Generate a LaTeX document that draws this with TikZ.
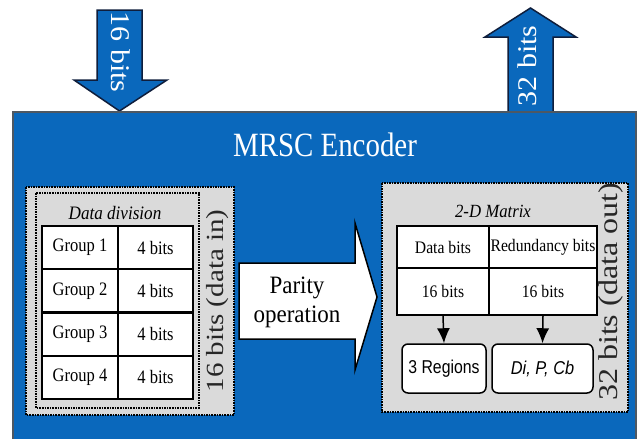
\documentclass[tikz,border=0pt]{standalone}
\usepackage{fontspec}
\setmainfont{Liberation Serif}
\setsansfont{Liberation Sans}
\usetikzlibrary{arrows.meta}
\definecolor{encblue}{RGB}{10,104,188}
\definecolor{encborder}{RGB}{78,88,98}
\definecolor{boxgray}{RGB}{218,218,218}
\definecolor{arrowline}{RGB}{15,30,60}
\newcommand{\hsq}[2][0.87]{\scalebox{#1}[1]{#2}}
\newcommand{\vsq}[2][0.85]{\scalebox{1}[#1]{#2}}
\begin{document}
\begin{tikzpicture}[x=1pt,y=-1pt,
  bigarrow/.style={fill=encblue, draw=arrowline, line width=1.5pt, line join=miter},
  arrowtext/.style={text=white, inner sep=0pt, font=\fontsize{30}{36}\selectfont},
  graybox/.style={fill=boxgray, draw=black, line width=1.6pt, dash pattern=on 1.6pt off 1pt},
  dotline/.style={draw=black, line width=1.6pt, dash pattern=on 1.6pt off 1pt},
  cell/.style={draw=black, line width=2.2pt, fill=white, inner sep=0pt, font=\fontsize{19}{22}\selectfont},
  mcell/.style={draw=black, line width=2.2pt, fill=white, inner sep=0pt, font=\fontsize{17.6}{20}\selectfont},
  rbox/.style={draw=black, line width=1.5pt, fill=white, rounded corners=6pt, inner sep=0pt,
    minimum height=49pt, font=\sffamily\fontsize{18.6}{22}\selectfont},
  conn/.style={draw=black, line width=1.5pt, -{Latex[length=15pt,width=13pt]}},
  sidetext/.style={text=black!85, inner sep=0pt, rotate=90}
]
\useasboundingbox (0,0) rectangle (641,439);
\clip (0,0) rectangle (641,439);
\fill[white] (0,0) rectangle (641,439);

% input / output arrows
\draw[bigarrow] (97,10) -- (142,10) -- (142,80) -- (167,80) -- (119.5,111) -- (74,80) -- (97,80) -- cycle;
\draw[bigarrow] (508,114) -- (508,37) -- (485,37) -- (530.5,8) -- (576,37) -- (553,37) -- (553,114);
\node[arrowtext, rotate=-90] (in16) at (121,52) {\vsq[0.9]{16 bits}};
\node[arrowtext, rotate=90] (out32) at (527,66) {\vsq[0.9]{32 bits}};

% encoder block
\draw[fill=encblue, draw=encborder, line width=2.2pt] (13,112) rectangle (636,450);
\node[text=white, inner sep=0pt, font=\fontsize{34}{40}\selectfont] (title) at (325,145) {\hsq[0.85]{MRSC Encoder}};

% left: data division
\draw[graybox] (26,187) rectangle (234,415);
\draw[dotline] (36,193) rectangle (199,408);
\node[inner sep=0pt, font=\itshape\fontsize{19}{22}\selectfont] (ddiv) at (115,213) {\hsq[0.9]{Data division}};
\node[cell, minimum width=76pt, minimum height=43.25pt] (g1) at (80,247.6) {\hsq{Group 1}};
\node[cell, minimum width=75pt, minimum height=43.25pt] (b1) at (155.5,247.6) {\hsq{4 bits}};
\node[cell, minimum width=76pt, minimum height=43.25pt] (g2) at (80,290.9) {\hsq{Group 2}};
\node[cell, minimum width=75pt, minimum height=43.25pt] (b2) at (155.5,290.9) {\hsq{4 bits}};
\node[cell, minimum width=76pt, minimum height=43.25pt] (g3) at (80,334.1) {\hsq{Group 3}};
\node[cell, minimum width=75pt, minimum height=43.25pt] (b3) at (155.5,334.1) {\hsq{4 bits}};
\node[cell, minimum width=76pt, minimum height=43.25pt] (g4) at (80,377.4) {\hsq{Group 4}};
\node[cell, minimum width=75pt, minimum height=43.25pt] (b4) at (155.5,377.4) {\hsq{4 bits}};
\node[sidetext, font=\fontsize{29}{34}\selectfont] (din) at (218,301) {\vsq{16 bits (data in)}};

% parity operation arrow
\draw[fill=white, draw=black, line width=1.5pt, line join=miter]
  (239,263) -- (355,263) -- (355,223) -- (377,297) -- (355,370) -- (355,339) -- (239,339) -- cycle;
\node[inner sep=0pt, font=\fontsize{25}{29}\selectfont] (par) at (297,302)
  {\hsq[0.92]{\begin{tabular}{@{}c@{}}Parity\\operation\end{tabular}}};

% right: 2-D matrix
\draw[graybox] (382,183) rectangle (628,412);
\node[inner sep=0pt, font=\itshape\fontsize{18.6}{22}\selectfont] (mat) at (493,211) {\hsq[0.9]{2-D Matrix}};
\node[mcell, minimum width=92pt, minimum height=42pt] (dbits) at (443,247) {\hsq[0.89]{Data bits}};
\node[mcell, minimum width=108pt, minimum height=42pt] (rbits) at (543,247) {\hsq[0.89]{Redundancy bits}};
\node[mcell, minimum width=92pt, minimum height=47pt] (d16) at (443,291.5) {\hsq[0.89]{16 bits}};
\node[mcell, minimum width=108pt, minimum height=47pt] (r16) at (543,291.5) {\hsq[0.89]{16 bits}};
\node[rbox, minimum width=84pt] (reg) at (444,368.5) {\hsq[0.85]{3 Regions}};
\node[rbox, minimum width=101pt] (dpc) at (542.5,368.5) {\hsq[0.88]{\itshape Di, P, Cb}};
\draw[conn] (d16.south) -- (reg.north);
\draw[conn] (r16.south) -- (dpc.north);
\node[sidetext, font=\fontsize{32}{38}\selectfont] (dout) at (611,292) {\vsq{32 bits (data out)}};
\end{tikzpicture}
\end{document}
